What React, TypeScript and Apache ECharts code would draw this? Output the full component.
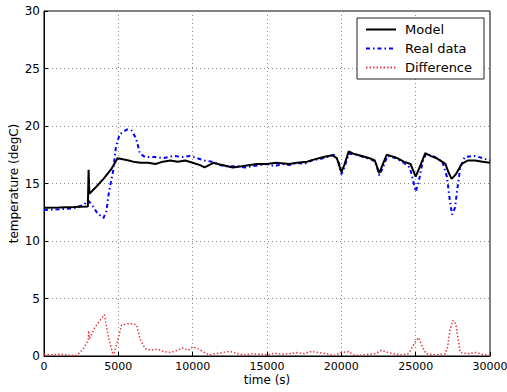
import React, { useEffect, useRef } from "react";
import * as echarts from "echarts";

const modelT = [0, 1000, 2000, 2950, 3000, 3050, 3500, 4000, 4500, 4950, 5300, 5700, 6000, 6500, 7000, 7500, 8000, 8500, 9000, 9500, 10000, 10500, 10800, 11400, 12000, 12700, 13300, 14300, 15000, 15600, 16500, 17000, 17700, 18200, 18800, 19400, 19700, 20000, 20200, 20500, 20800, 21200, 21900, 22250, 22550, 22800, 23050, 23700, 24200, 24650, 25000, 25200, 25650, 26000, 26400, 27000, 27200, 27420, 27700, 28100, 28500, 29000, 29500, 30000];
const modelV = [12.9, 12.92, 12.95, 13.0, 16.2, 14.1, 14.7, 15.4, 16.2, 17.2, 17.1, 17.0, 16.9, 16.8, 16.8, 16.7, 16.9, 17.0, 16.9, 17.0, 16.8, 16.6, 16.4, 16.8, 16.6, 16.4, 16.5, 16.7, 16.7, 16.8, 16.7, 16.8, 16.9, 17.1, 17.3, 17.45, 17.2, 16.0, 16.6, 17.8, 17.6, 17.45, 17.2, 17.0, 15.9, 16.7, 17.5, 17.25, 16.9, 16.7, 15.6, 16.2, 17.65, 17.4, 17.2, 16.7, 16.0, 15.4, 15.8, 16.7, 17.0, 17.0, 16.9, 16.8];

const realT = [0, 1000, 2000, 2600, 3000, 3300, 3600, 4000, 4200, 4350, 4650, 4850, 5100, 5600, 5900, 6200, 6450, 6800, 7500, 8000, 8700, 9300, 9800, 10300, 10800, 11300, 11800, 12300, 13000, 13500, 14000, 14500, 15000, 15500, 16000, 16500, 17000, 17500, 18000, 18500, 19000, 19500, 19800, 20000, 20200, 20500, 21000, 21500, 22000, 22300, 22550, 22800, 23100, 23700, 24200, 24600, 24800, 25000, 25200, 25450, 25700, 26300, 26800, 27100, 27300, 27450, 27650, 27800, 28000, 28300, 29000, 29500, 30000];
const realV = [12.7, 12.75, 12.85, 13.1, 13.5, 13.0, 12.4, 12.0, 12.6, 14.1, 16.1, 18.3, 19.3, 19.7, 19.6, 18.9, 17.6, 17.3, 17.3, 17.2, 17.4, 17.3, 17.4, 17.2, 17.0, 16.9, 16.6, 16.5, 16.5, 16.4, 16.5, 16.6, 16.7, 16.5, 16.7, 16.6, 16.8, 16.7, 17.0, 17.1, 17.3, 17.5, 17.0, 15.8, 16.4, 17.6, 17.5, 17.3, 17.1, 16.9, 15.7, 16.4, 17.4, 17.2, 16.8, 16.4, 15.4, 14.3, 15.1, 16.8, 17.6, 17.3, 16.9, 15.6, 13.5, 12.3, 12.9, 14.5, 16.4, 17.3, 17.4, 17.2, 17.0];

const diffT = [0, 500, 1000, 1500, 2000, 2200, 2640, 2980, 3000, 3050, 3430, 3770, 4060, 4330, 4660, 4930, 5220, 5600, 6000, 6230, 6460, 6790, 7200, 7600, 8000, 8500, 9000, 9300, 9700, 10000, 10400, 10800, 11100, 11500, 12000, 12500, 13000, 13500, 14000, 14500, 15000, 15500, 16000, 16500, 17000, 17500, 18000, 18500, 19000, 19500, 20000, 20500, 20800, 21200, 21800, 22300, 22700, 23000, 23500, 24000, 24500, 24700, 25000, 25200, 25450, 25700, 26200, 26700, 27000, 27150, 27300, 27500, 27700, 27850, 28000, 28500, 29000, 29500, 30000];
const diffV = [0.15, 0.1, 0.15, 0.1, 0.05, 0.05, 0.6, 1.4, 2.2, 1.5, 2.5, 3.1, 3.6, 1.65, 0.0, 1.2, 2.7, 2.8, 2.8, 2.7, 1.5, 0.65, 0.5, 0.6, 0.4, 0.3, 0.5, 0.7, 0.5, 0.8, 0.6, 0.3, 0.1, 0.2, 0.3, 0.4, 0.2, 0.1, 0.2, 0.15, 0.1, 0.25, 0.15, 0.2, 0.3, 0.2, 0.4, 0.3, 0.2, 0.05, 0.3, 0.4, 0.1, 0.05, 0.15, 0.2, 0.5, 0.35, 0.2, 0.1, 0.2, 0.6, 1.3, 1.6, 0.8, 0.2, 0.1, 0.15, 0.2, 0.8, 2.2, 3.1, 2.8, 1.5, 0.3, 0.2, 0.3, 0.15, 0.05];

const seriesNames = ["Model", "Real data", "Difference"];
const xAxisName = "time (s)";
const yAxisName = "temperature (degC)";

const zip = (t: number[], v: number[]) => t.map((x, i) => [x, v[i]]);

export default function App() {
  const ref = useRef<HTMLDivElement>(null);
  useEffect(() => {
    if (!ref.current) return;
    const chart = echarts.init(ref.current, null, { renderer: "svg" });
    const font = "DejaVu Sans";
    chart.setOption({
      animation: false,
      backgroundColor: "#fff",
      grid: {
        left: 44,
        right: 17,
        top: 11,
        bottom: 36,
        show: true,
        borderColor: "#000",
        borderWidth: 1,
        containLabel: false,
        outerBoundsMode: "none",
      },
      legend: {
        orient: "vertical",
        left: 357,
        top: 18,
        width: 126,
        padding: [5, 12, 5, 8],
        itemGap: 6,
        itemWidth: 30,
        itemHeight: 14,
        backgroundColor: "#fff",
        borderColor: "#222",
        borderWidth: 1,
        borderRadius: 0,
        itemStyle: { opacity: 0 },
        textStyle: { fontFamily: font, fontSize: 13, color: "#000", padding: [0, 0, 0, 4] },
        data: seriesNames,
      },
      xAxis: {
        type: "value",
        min: 0,
        max: 30000,
        interval: 5000,
        name: xAxisName,
        nameLocation: "middle",
        nameGap: 18,
        nameMoveOverlap: false,
        nameTextStyle: { fontFamily: font, fontSize: 12, color: "#000" },
        axisLine: { show: true, lineStyle: { color: "#000", width: 1 } },
        axisTick: { show: true, inside: true, length: 4, lineStyle: { color: "#000" } },
        axisLabel: { fontFamily: font, fontSize: 11, color: "#000", margin: 5, formatter: (v: number) => String(v) },
        splitLine: { show: true, lineStyle: { type: [1, 3], color: "#888", width: 1 } },
      },
      yAxis: {
        type: "value",
        min: 0,
        max: 30,
        interval: 5,
        name: yAxisName,
        nameLocation: "middle",
        nameGap: 24,
        nameMoveOverlap: false,
        nameTextStyle: { fontFamily: font, fontSize: 12, color: "#000" },
        axisLine: { show: true, lineStyle: { color: "#000", width: 1 } },
        axisTick: { show: true, inside: true, length: 4, lineStyle: { color: "#000" } },
        axisLabel: { fontFamily: font, fontSize: 12, color: "#000", margin: 4 },
        splitLine: { show: true, lineStyle: { type: [1, 3], color: "#888", width: 1 } },
      },
      series: [
        {
          name: seriesNames[0],
          type: "line",
          data: zip(modelT, modelV),
          showSymbol: false,
          symbol: "none",
          lineStyle: { color: "#000", width: 2 },
          itemStyle: { color: "#000" },
          z: 3,
        },
        {
          name: seriesNames[1],
          type: "line",
          data: zip(realT, realV),
          showSymbol: false,
          symbol: "none",
          lineStyle: { color: "#0000ff", width: 2, type: [4, 3, 1.5, 3] },
          itemStyle: { color: "#0000ff" },
          z: 2,
        },
        {
          name: seriesNames[2],
          type: "line",
          data: zip(diffT, diffV),
          showSymbol: false,
          symbol: "none",
          lineStyle: { color: "#e8383d", width: 1.5, type: [1.5, 2] },
          itemStyle: { color: "#e8383d" },
          z: 2,
        },
      ],
    });
    return () => chart.dispose();
  }, []);
  return <div ref={ref} style={{ width: 507, height: 392, position: "absolute", left: 0, top: 0 }} />;
}
